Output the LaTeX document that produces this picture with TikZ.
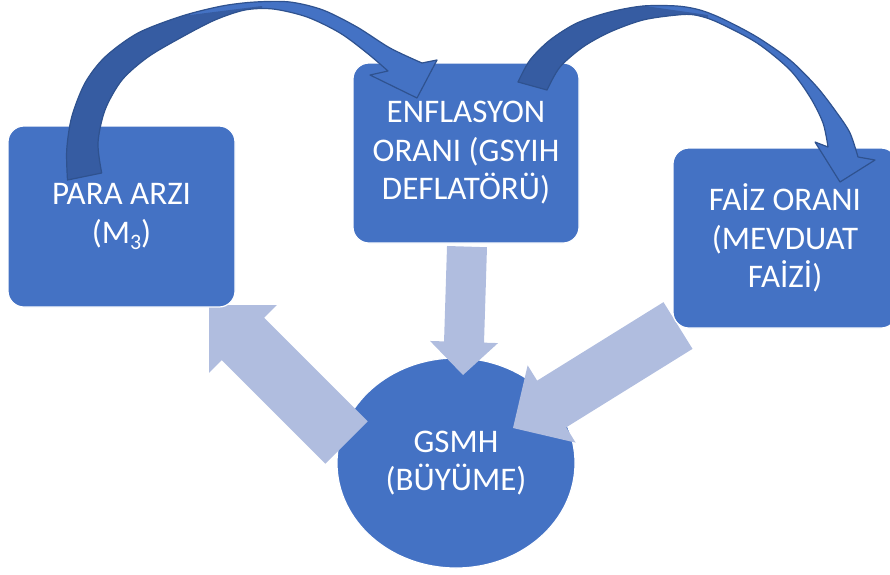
\documentclass[tikz,border=0pt]{standalone}
\usepackage{fontspec}
\setmainfont{Carlito}
\usetikzlibrary{calc,shapes.geometric}
\definecolor{boxblue}{HTML}{4472C4}
\definecolor{edgeblue}{HTML}{2F528F}
\definecolor{backblue}{HTML}{365CA2}
\definecolor{lightarrow}{HTML}{B0BDDF}
\pgfdeclarelayer{bg}
\pgfsetlayers{bg,main}
\tikzset{
  shapebase/.style={draw=white, line width=1.2pt, fill=boxblue, text=white, align=center,
    font=\fontsize{33}{38.5}\selectfont, inner sep=0pt},
  boxnode/.style={shapebase, rectangle, rounded corners=16pt},
  ellnode/.style={shapebase, ellipse},
  blk/.style={fill=lightarrow},
}
\newcommand\blkarrow[5]{% start, tip, half shaft, half head, head length
  \coordinate (hb) at ($(#2)!#5!(#1)$);
  \fill[blk] ($(#1)!#3!90:(#2)$) -- ($(hb)!#3!90:(#2)$) -- ($(hb)!#4!90:(#2)$) -- (#2)
    -- ($(hb)!#4!-90:(#2)$) -- ($(hb)!#3!-90:(#2)$) -- ($(#1)!#3!-90:(#2)$) -- cycle;}
\newcommand\curveA[1]{\path[#1] plot[smooth] coordinates {(67.5,180) (66.7,150) (71.7,117) (85,83) (105,57) (138,33) (182,16) (222,6) (255,2) (290,2) (323,10) (357,27) (390,48) (422,63)}
  -- (437,60) -- (417,98) -- (370,75) -- (388,71)
  -- plot[smooth] coordinates {(388,71) (367,53) (340,33) (307,17) (273,9) (245,10) (215,20) (182,37) (148,57) (122,80) (105,110) (98,143) (101.7,173)} -- cycle;}
\newcommand\curveB[1]{\path[#1] plot[smooth] coordinates {(518,82) (530,60) (550,40) (577,23) (610,12) (643,6) (677,6) (700,10) (723,19) (757,37) (790,60) (817,87) (837,113) (850,133) (858,157)}
  -- (875,160) -- (840,182) -- (815,142) -- (828,147)
  -- plot[smooth] coordinates {(828,147) (823,123) (810,97) (790,70) (757,43) (717,22) (695,15) (677,15) (643,20) (610,32) (583,47) (560,67) (547,90)} -- cycle;}
\begin{document}
\begin{tikzpicture}[x=1pt,y=-1pt]
\useasboundingbox (0,0) rectangle (890,574);
% boxes
\node[boxnode, minimum width=227pt, minimum height=181pt] (para) at (121.5,216.5) {PARA ARZI\\(M\raisebox{-6pt}{\fontsize{22}{22}\selectfont 3})};
\node[boxnode, minimum width=226pt, minimum height=180pt] (enf) at (466,153) {ENFLASYON\\ORANI (GSYIH\\DEFLATÖRÜ)};
\node[boxnode, minimum width=224pt, minimum height=180pt] (faiz) at (785,238) {FAİZ ORANI\\(MEVDUAT\\FAİZİ)};
\begin{pgfonlayer}{bg}
\node[ellnode, minimum width=238pt, minimum height=210pt] (gsmh) at (456,463) {GSMH\\(BÜYÜME)};
% block arrows
\coordinate (dS) at ($(enf.south)+(1,3)$);
\coordinate (dT) at (463,375);
\coordinate (lS) at (346.5,442.5);
\coordinate (lT) at (209,305);
\coordinate (rS) at (678,325.5);
\coordinate (rT) at (513,428);
\blkarrow{dS}{dT}{20pt}{34pt}{33pt}
\blkarrow{lS}{lT}{30pt}{48pt}{48pt}
\blkarrow{rS}{rT}{27.5pt}{45.5pt}{45.5pt}
\end{pgfonlayer}
% curved arrows
\curveA{fill=boxblue}
\begin{scope}
  \clip (0,250) -- (0,-20) -- (180,-20) -- (190,15) -- (262,6) -- (262,250) -- cycle;
  \curveA{fill=backblue}
\end{scope}
\curveA{draw=edgeblue, line width=1.2pt, line join=round}
\curveB{fill=boxblue}
\begin{scope}
  \clip (480,250) -- (480,-20) -- (640,-20) -- (645,6) -- (708,15) -- (708,250) -- cycle;
  \curveB{fill=backblue}
\end{scope}
\curveB{draw=edgeblue, line width=1.2pt, line join=round}
\end{tikzpicture}
\end{document}
